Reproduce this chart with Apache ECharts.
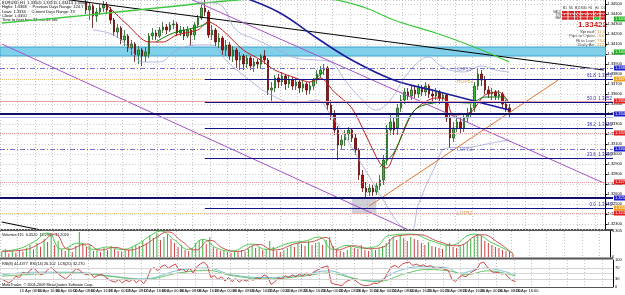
<!DOCTYPE html>
<html><head><meta charset="utf-8">
<script src="https://cdn.jsdelivr.net/npm/echarts@6/dist/echarts.min.js"></script>
<style>html,body{margin:0;padding:0;background:#fff}#c{width:625px;height:295px}</style>
</head><body><div id="c"></div>
<script>
// ---------------- DATA ----------------
const N = 173; // category slots (bars + right-side shift)
const tickLabels = ['15 Apr 2013','15 Apr 08:00','15 Apr 16:00','16 Apr 00:00','16 Apr 08:00','16 Apr 16:00',
 '17 Apr 00:00','17 Apr 08:00','17 Apr 16:00','18 Apr 00:00','18 Apr 08:00','18 Apr 16:00',
 '19 Apr 00:00','19 Apr 08:00','19 Apr 16:00','22 Apr 00:00','22 Apr 08:00','22 Apr 16:00',
 '23 Apr 00:00','23 Apr 08:00','23 Apr 16:00','24 Apr 00:00','24 Apr 08:00','24 Apr 16:00',
 '25 Apr 00:00','25 Apr 08:00','25 Apr 16:00','26 Apr 00:00','26 Apr 08:00','26 Apr 16:00'];
const firstCandle = 24; // earlier bars are above the visible price range
// [open, close, low, high]
const candleOHLC = [
[1.3452,1.3444,1.3440,1.3456],[1.3444,1.3448,1.3434,1.3451],[1.3448,1.3438,1.3426,1.3450],[1.3438,1.3442,1.3432,1.3446],
[1.3442,1.3446,1.3439,1.3450],[1.3446,1.3449,1.3442,1.3453],[1.3449,1.3444,1.3440,1.3452],[1.3444,1.3434,1.3430,1.3447],
[1.3434,1.3422,1.3418,1.3436],[1.3422,1.3426,1.3416,1.3430],[1.3426,1.3414,1.3410,1.3428],[1.3414,1.3418,1.3408,1.3424],
[1.3418,1.3406,1.3402,1.3420],[1.3406,1.3410,1.3399,1.3414],[1.3410,1.3399,1.3392,1.3412],[1.3399,1.3404,1.3390,1.3408],
[1.3404,1.3398,1.3388,1.3406],[1.3398,1.3402,1.3392,1.3407],[1.3400,1.3418,1.3396,1.3421],[1.3418,1.3421,1.3414,1.3426],
[1.3421,1.3418,1.3414,1.3424],[1.3418,1.3424,1.3416,1.3427],[1.3424,1.3427,1.3421,1.3432],[1.3427,1.3424,1.3420,1.3430],
[1.3424,1.3429,1.3422,1.3432],[1.3429,1.3430,1.3425,1.3434],[1.3430,1.3421,1.3418,1.3432],[1.3421,1.3424,1.3418,1.3428],
[1.3424,1.3418,1.3414,1.3427],[1.3418,1.3424,1.3416,1.3428],[1.3424,1.3419,1.3408,1.3426],[1.3419,1.3429,1.3414,1.3432],
[1.3429,1.3436,1.3426,1.3439],[1.3436,1.3446,1.3434,1.3449],[1.3446,1.3442,1.3438,1.3457],[1.3442,1.3419,1.3416,1.3444],
[1.3419,1.3424,1.3414,1.3429],[1.3424,1.3412,1.3408,1.3426],[1.3412,1.3416,1.3406,1.3421],[1.3416,1.3404,1.3399,1.3418],
[1.3404,1.3409,1.3398,1.3414],[1.3409,1.3398,1.3394,1.3412],[1.3398,1.3404,1.3392,1.3408],[1.3404,1.3394,1.3386,1.3406],
[1.3394,1.3398,1.3384,1.3402],[1.3398,1.3390,1.3384,1.3400],[1.3390,1.3396,1.3386,1.3399],[1.3396,1.3388,1.3384,1.3398],
[1.3388,1.3392,1.3382,1.3396],[1.3392,1.3390,1.3385,1.3395],[1.3390,1.3398,1.3386,1.3400],[1.3398,1.3394,1.3390,1.3404],
[1.3394,1.3364,1.3359,1.3396],[1.3364,1.3366,1.3352,1.3372],[1.3366,1.3376,1.3362,1.3379],[1.3376,1.3372,1.3366,1.3380],
[1.3372,1.3378,1.3368,1.3382],[1.3378,1.3370,1.3364,1.3380],[1.3370,1.3374,1.3366,1.3378],[1.3374,1.3368,1.3364,1.3377],
[1.3368,1.3372,1.3364,1.3376],[1.3372,1.3366,1.3361,1.3374],[1.3366,1.3370,1.3362,1.3374],[1.3370,1.3364,1.3359,1.3372],
[1.3364,1.3368,1.3360,1.3372],[1.3368,1.3374,1.3364,1.3376],[1.3374,1.3380,1.3370,1.3384],[1.3380,1.3384,1.3376,1.3388],
[1.3384,1.3386,1.3379,1.3390],[1.3386,1.3349,1.3344,1.3388],[1.3349,1.3339,1.3334,1.3354],[1.3339,1.3324,1.3319,1.3344],
[1.3324,1.3309,1.3294,1.3328],[1.3309,1.3314,1.3304,1.3319],[1.3314,1.3320,1.3308,1.3324],[1.3320,1.3324,1.3314,1.3327],
[1.3324,1.3316,1.3312,1.3326],[1.3316,1.3304,1.3299,1.3320],[1.3304,1.3279,1.3274,1.3306],[1.3279,1.3266,1.3262,1.3284],
[1.3266,1.3262,1.3256,1.3272],[1.3262,1.3266,1.3258,1.3270],[1.3266,1.3262,1.3258,1.3269],[1.3262,1.3268,1.3259,1.3272],
[1.3268,1.3274,1.3264,1.3279],[1.3274,1.3294,1.3269,1.3299],[1.3294,1.3324,1.3289,1.3329],[1.3324,1.3332,1.3319,1.3341],
[1.3332,1.3324,1.3319,1.3336],[1.3326,1.3346,1.3319,1.3350],[1.3346,1.3354,1.3342,1.3359],[1.3354,1.3362,1.3350,1.3366],
[1.3362,1.3358,1.3354,1.3366],[1.3358,1.3364,1.3354,1.3368],[1.3364,1.3360,1.3356,1.3368],[1.3360,1.3366,1.3356,1.3370],
[1.3366,1.3362,1.3358,1.3369],[1.3362,1.3368,1.3358,1.3372],[1.3368,1.3360,1.3356,1.3370],[1.3360,1.3358,1.3352,1.3364],
[1.3358,1.3362,1.3354,1.3366],[1.3362,1.3356,1.3350,1.3364],[1.3356,1.3359,1.3352,1.3362],[1.3359,1.3336,1.3332,1.3361],
[1.3336,1.3316,1.3306,1.3339],[1.3316,1.3326,1.3312,1.3332],[1.3326,1.3332,1.3322,1.3338],[1.3332,1.3326,1.3320,1.3336],
[1.3326,1.3336,1.3322,1.3340],[1.3336,1.3340,1.3332,1.3346],[1.3340,1.3346,1.3336,1.3350],[1.3346,1.3368,1.3342,1.3372],
[1.3368,1.3380,1.3364,1.3386],[1.3380,1.3374,1.3368,1.3384],[1.3374,1.3364,1.3360,1.3378],[1.3364,1.3360,1.3356,1.3368],
[1.3360,1.3362,1.3354,1.3366],[1.3362,1.3358,1.3354,1.3364],[1.3358,1.3360,1.3354,1.3364],[1.3360,1.3350,1.3346,1.3362],
[1.3350,1.3345,1.3342,1.3354],[1.3346,1.3342,1.3337,1.3350]
];
// overlay lines: [barIndex, price]
const blackTrend = [[0,1.3463],[172,1.3384]];
const blackTrendLow = [[0,1.3232],[14,1.3222]];
const greenMA = [[0,1.3431],[16,1.3436],[33,1.3442],[50,1.3448],[64,1.3453],[79,1.3456],[93,1.3455],[104,1.3446],[112,1.3434],[124,1.3421],[135,1.3407],[145,1.3392]];
const blueMA = [[67,1.3459],[79,1.3442],[90,1.3416],[100,1.3394],[112,1.3374],[124,1.3363],[135,1.3353],[145,1.3344]];
const redEMA = [[30,1.3449],[36,1.3429],[42,1.3412],[46,1.3412],[50,1.3419],[56,1.3424],[59,1.3432],[63,1.3424],[69,1.3404],[74,1.3394],[78,1.3384],[84,1.3376],[88,1.3372],[91,1.3376],[95,1.3362],[100,1.3346],[104,1.3319],[108,1.3291],[110,1.3286],[112,1.3299],[115,1.3324],[118,1.3344],[124,1.3356],[127,1.3354],[129,1.3339],[134,1.3342],[138,1.3359],[142,1.3362],[145,1.3351]];
const dkGreen1 = [[44,1.3412],[49,1.3421],[56,1.3427],[59,1.3431]];
const dkGreen2 = [[89,1.3374],[92,1.3382]];
const dkGreen3 = [[108,1.3287],[112,1.3301],[118,1.3344],[127,1.3352],[134,1.3351],[138,1.3357],[143,1.3357],[145,1.3351]];
const bbUpper = [[56,1.3452],[62,1.3450],[67,1.3424],[73,1.3414],[79,1.3404],[84,1.3396],[90,1.3394],[94,1.3392],[98,1.3374],[103,1.3354],[107,1.3344],[111,1.3354],[115,1.3376],[119,1.3392],[122,1.3397],[125,1.3389],[128,1.3384],[132,1.3382],[137,1.3388],[141,1.3384],[145,1.3382]];
const bbLower = [[26,1.3424],[32,1.3419],[37,1.3404],[40,1.3392],[45,1.3392],[50,1.3404],[56,1.3409],[60,1.3409],[64,1.3394],[70,1.3376],[77,1.3359],[84,1.3351],[90,1.3354],[94,1.3339],[97,1.3324],[103,1.3289],[109,1.3254],[114,1.3228],[117,1.3224],[119,1.3249],[124,1.3289],[127,1.3306],[134,1.3307],[140,1.3311],[145,1.3314]];
const purpleA = [[0,1.3410],[120,1.3218]];
const purpleB = [[50,1.3461],[172,1.3271]];
const orangeTrend = [[105,1.3248],[159,1.3374]];
// horizontal levels
const cyanZone = [1.3407, 1.3398];
const grayBox = [[100,1.3255],[107,1.3240]];
const dashDotLevels = [1.3386, 1.3305];
const navyThickLevels = [1.3340, 1.3256];
const pinkSolidLevels = [1.3353];
const pinkDotLevels = [1.3321, 1.3272, 1.3241];
const lavenderLevels = [1.3337];
const orangeDotLevels = [1.3375, 1.3241];
const fibStart = 58;
const fibRatios = ['61.8','50.0','38.2','23.6','0.0'];
const fibPrices = [1.3375, 1.3352, 1.3326, 1.3296, 1.3246];
const blueTags = [1.3386, 1.3340, 1.3305, 1.3256];
const redTags = [1.3353, 1.3321, 1.3272, 1.3241];
const orangeTags = [1.3375, 1.3246];
const greenTags = [1.3435, 1.3402];
// volumes
const volumes = [250,400,180,300,220,350, 280,450,600,380,700,520, 900,750,1050,600,820, 400,300,450,250,
 550,1250,700,500,600, 300,380,250,450, 350,550,400,300, 280,420,350,500, 600,550,800,700,
 1100,950,1200,850,1000,1150,900, 700,500,600,350, 300,450,700,850, 900,650,1000,500,
 400,300,350,250,200, 300,250,350,280,400, 550,450,500,350, 400,800,500,300,250,
 350,450,600,500,700, 650,550,800,600,700, 750,600,850,1000, 550,400,300,250,350,
 500,450,400,600,350, 300,400,350,450,550, 700,900,1000,850,1100, 950,800,1000,900,850,
 700,600,750,550,500, 450,400,600,700,500, 450,550,650,750,900, 1000,1150,1050,800,700,
 600,500,450,350,300, 250,150];
const volRed = [[0,280],[6,350],[11,700],[15,1150],[19,380],[24,650],[28,350],[32,480],[36,350],[40,560],[44,1000],[47,1260],[51,800],[55,350],[59,840],[63,420],[67,280],[73,630],[77,350],[84,700],[88,770],[92,980],[95,350],[100,560],[104,420],[108,490],[112,1050],[118,1120],[124,770],[129,560],[136,1120],[141,700],[145,140]];
const volGreen = [[0,300],[4,380],[9,750],[13,1200],[17,400],[22,700],[26,380],[30,500],[34,380],[38,600],[42,1050],[45,1300],[49,850],[53,380],[57,880],[61,450],[65,300],[71,650],[75,380],[82,720],[86,800],[90,1000],[94,380],[98,580],[102,450],[106,520],[110,1080],[116,1150],[122,800],[127,580],[134,1150],[139,720],[145,200]];
const volMax = 1305;
// oscillator pane
const oscRed = [30,22,15,25,40,35,55,48,62,70,58,45, 50,65,72,60,48,38,30,42,55,68,62,50,
 45,52,35,42,48,40,30,22,18,28,15,25, 20,30,15,28,12,30,
 65,72,60,75,82,70,78,85,62,68,55,70,52,75,85,92,80,
 35,42,28,38,22,35,20,32,18,28,22,30,25,35,30,45,38,
 10,18,35,30,42,35,45,38,48,40,52,42,55,62,70,75,78,
 15,10,8,5,18,25,30,22,12,6,5,8, 15,12,22,30,55,75,80,72,85,90,92,
 80,85,78,82,75,80,70,68,72,65,62, 30,20, 35,42,38,50,58,65,88,92, 75,60,52,55,48,50,35,25,20];
const oscCyan = [[0,45],[10,55],[20,55],[30,42],[40,30],[50,62],[58,70],[65,45],[75,35],[85,45],[92,60],[100,30],[105,22],[112,60],[118,75],[126,70],[129,50],[136,70],[145,45]];
const oscGreen = [[0,40],[10,48],[20,52],[30,40],[40,28],[50,52],[58,62],[65,42],[75,30],[85,40],[92,52],[100,30],[106,20],[114,50],[120,65],[127,58],[131,45],[137,60],[145,40]];
const oscLevels = [30, 50, 70];
// texts
const headerLines = ['EURUSD,H1  1.33505 1.33515 1.33413 1.33422','Highs: 1.3368  \u00b7  Previous Days Range: 124.7','Lows: 1.3334  \u00b7  Current Days Range: 73','Close: 1.3350','Time to next bar: 33 min 45 sec'];
const signalTF = ['M1','M5','M15','M30','H1','H4','D1'];
const signalRows = ['MACD','STR','EMA'];
const signalState = [[0,0,0,0,0,0,0],[0,0,0,0,0,0,0],[0,0,0,0,0,1,0]];
const bigPrice = '1.33422';
const infoLabels = ['Spread:','Pips to Open:','Hi to Low:','Daily Av:'];
const infoValues = ['11.5','-9.6','73.0','112.8'];
const volTitle = 'Volumes 115  0.0520  18.2941  11.2020';
const oscTitle = 'RSI(8) 44.4377  RSI(14) 26.102  LCS(20) 32.270';
const copyright = 'MetaTrader, \u00a9 2001-2009 MetaQuotes Software Corp.';

// ---------------- BUILD ----------------
const F = '"Liberation Sans", Arial, sans-serif';
const categories = Array.from({length:N}, (_, i) => (i % 5 === 0 && tickLabels[i/5]) ? tickLabels[i/5] : '');
const candleData = Array(firstCandle).fill('-').concat(candleOHLC);
const volData = volumes.map((v, i) => ({value:v, itemStyle:{color: (i === 0 || v >= volumes[i-1]) ? '#3cae3c' : '#c84040'}}));

const full = (p, style) => [{coord:[0,p], x:0, lineStyle:style}, {coord:[N-1,p], x:613}];
const ml = [];
dashDotLevels.forEach(p => ml.push(full(p, {color:'#7474c8', type:[5,2,1,2], width:1})));
navyThickLevels.forEach(p => ml.push(full(p, {color:'#10106a', type:'solid', width:2})));
pinkSolidLevels.forEach(p => ml.push(full(p, {color:'#e6a2a2', type:'solid', width:1})));
pinkDotLevels.forEach(p => ml.push(full(p, {color:'#e8a0a0', type:[1,1], width:1})));
lavenderLevels.forEach(p => ml.push(full(p, {color:'#b4b4ea', type:'solid', width:1})));
orangeDotLevels.forEach(p => ml.push([{coord:[0,p], x:0, lineStyle:{color:'#f0c478', type:[1,1], width:1}},{coord:[fibStart,p]}]));
fibPrices.forEach((p, k) => ml.push([{coord:[fibStart,p], lineStyle:{color:'#14148a', type:'solid', width:1},
  label:{show:true, position:'insideEndTop', formatter: fibRatios[k] + '  ' + p.toFixed(4), fontSize:4.5, color:'#3030a0', fontFamily:F, distance:1}},
  {coord:[N-1,p], x:613}]));
const tagMl = [];
const tag = (p, c) => [{coord:[N-1,p], x:612, lineStyle:{color:'rgba(0,0,0,0)', width:0.1},
  label:{show:true, position:'end', distance:1, formatter:p.toFixed(5),
  backgroundColor:c, color:'#fff', fontSize:4, padding:[1,1,0,1], fontFamily:F}}, {coord:[N-1,p], x:613}];
blueTags.forEach(p => tagMl.push(tag(p, '#1c1cc8')));
redTags.forEach(p => tagMl.push(tag(p, '#e01c1c')));
orangeTags.forEach(p => tagMl.push(tag(p, '#f0a01c')));
greenTags.forEach(p => tagMl.push(tag(p, '#1cae1c')));

function ln(data, color, width, extra) {
  return Object.assign({type:'line', xAxisIndex:0, yAxisIndex:0, data, symbol:'none', silent:true,
    lineStyle:{color, width}, clip:true, z:3}, extra || {});
}

const graphics = [];
graphics.push({type:'text', x:2, y:1, style:{text:headerLines.join('\n'), font:'4px ' + F, lineHeight:4.2, fill:'#000'}});
signalTF.forEach((t, c) => graphics.push({type:'text', x:564.8 + c*6.4, y:8.6, style:{text:t, font:'3px ' + F, fill:'#333', align:'center', verticalAlign:'middle'}}));
signalRows.forEach((t, r) => {
  graphics.push({type:'text', x:561, y:12.2 + r*3.1, style:{text:t, font:'2.6px ' + F, fill:'#333', align:'right', verticalAlign:'middle'}});
  signalTF.forEach((_, c) => graphics.push({type:'rect', shape:{x:562 + c*6.4, y:11 + r*3.1, width:5.6, height:2.5},
    style:{fill: signalState[r][c] ? '#1fb41f' : '#d42020'}}));
});
graphics.push({type:'text', x:607, y:25, style:{text:bigPrice, font:'bold 8px ' + F, fill:'#d41212', align:'right', verticalAlign:'middle'}});
infoLabels.forEach((t, k) => {
  graphics.push({type:'text', x:595, y:31.5 + k*4.5, style:{text:t, font:'4.3px ' + F, fill:'#444', align:'right', verticalAlign:'middle'}});
  graphics.push({type:'text', x:597, y:31.5 + k*4.5, style:{text:infoValues[k], font:'4.3px ' + F, fill:'#d08a28', align:'left', verticalAlign:'middle'}});
});
graphics.push({type:'text', x:455, y:70, style:{text:'HOP51', font:'5px ' + F, fill:'#8c8cd0', verticalAlign:'middle'}});
graphics.push({type:'text', x:457, y:81.5, style:{text:'HOP52', font:'5px ' + F, fill:'#e0a448', verticalAlign:'middle'}});
graphics.push({type:'text', x:457, y:150, style:{text:'LOP51', font:'5px ' + F, fill:'#8c8cd0', verticalAlign:'middle'}});
graphics.push({type:'text', x:457, y:213.5, style:{text:'LOP52', font:'5px ' + F, fill:'#e0a448', verticalAlign:'middle'}});
graphics.push({type:'text', x:2, y:233, style:{text:volTitle, font:'3.8px ' + F, fill:'#000'}});
graphics.push({type:'text', x:2, y:262, style:{text:oscTitle, font:'3.8px ' + F, fill:'#000'}});
graphics.push({type:'text', x:2, y:282.5, style:{text:copyright, font:'3.8px ' + F, fill:'#000'}});
graphics.push({type:'line', shape:{x1:0, y1:230, x2:613, y2:230}, style:{stroke:'#555', lineWidth:2}});
graphics.push({type:'line', shape:{x1:0, y1:258.5, x2:613, y2:258.5}, style:{stroke:'#555', lineWidth:2}});
graphics.push({type:'line', shape:{x1:0, y1:287.5, x2:613, y2:287.5}, style:{stroke:'#555', lineWidth:1}});

const gridV = {show:true, interval:4, lineStyle:{color:'#c4c4c4', type:[1,2], width:1}};
const option = {
  animation:false,
  backgroundColor:'#fff',
  textStyle:{fontFamily:F},
  grid:[{left:0, top:0, width:613, height:229},{left:0, top:231, width:613, height:26},{left:0, top:260, width:613, height:27}],
  xAxis:[0,1,2].map(k => ({type:'category', gridIndex:k, data:categories, boundaryGap:true,
    axisLine:{show:false}, axisTick:{show:false},
    axisLabel:{show:k===2, interval:4, fontSize:4, color:'#000', margin:2, align:'left', fontFamily:F},
    splitLine:gridV})),
  yAxis:[
    {type:'value', gridIndex:0, position:'right', min:1.3225, max:1.3454, splitNumber:20,
      axisLine:{show:true, lineStyle:{color:'#000', width:1}}, axisTick:{show:true, length:2, lineStyle:{color:'#000'}},
      axisLabel:{fontSize:4, color:'#000', margin:2, formatter:v => v.toFixed(5), showMinLabel:false, showMaxLabel:false, fontFamily:F},
      splitLine:{show:true, lineStyle:{color:'#cfcfcf', type:[1,2]}}},
    {type:'value', gridIndex:1, position:'right', min:0, max:volMax,
      axisLine:{show:true, lineStyle:{color:'#000'}}, axisTick:{show:false},
      axisLabel:{fontSize:4, color:'#000', margin:2, customValues:[0, volMax], fontFamily:F}, splitLine:{show:false}},
    {type:'value', gridIndex:2, position:'right', min:0, max:100,
      axisLine:{show:true, lineStyle:{color:'#000'}}, axisTick:{show:false},
      axisLabel:{fontSize:4, color:'#000', margin:2, customValues:[0, 30, 70, 100], fontFamily:F}, splitLine:{show:false}}
  ],
  graphic:graphics,
  series:[
    {type:'candlestick', xAxisIndex:0, yAxisIndex:0, data:candleData, barWidth:2, clip:true, silent:true, z:2,
      itemStyle:{color:'#2fbf2f', color0:'#a80c0c', borderColor:'#1e5a1e', borderColor0:'#5a0a0a', borderWidth:0.8},
      markArea:{silent:true, data:[
        [{yAxis:cyanZone[0], itemStyle:{color:'#80d0ea', borderColor:'#3aa2cc', borderWidth:1}},{yAxis:cyanZone[1]}],
        [{coord:grayBox[0], itemStyle:{color:'rgba(150,150,170,0.45)'}},{coord:grayBox[1]}]
      ]}
    },
    ln(blackTrend, '#000', 1, {markLine:{silent:true, symbol:['none','none'], label:{show:false}, animation:false, data:ml}}),
    ln(blackTrendLow, '#000', 1),
    ln(greenMA, '#3ec83e', 1.3, {smooth:0.4}),
    ln(blueMA, '#1c1c9c', 1.6, {smooth:0.4}),
    ln(bbUpper, '#a6a6d8', 0.8, {smooth:0.4}),
    ln(bbLower, '#a6a6d8', 0.8, {smooth:0.4}),
    ln(redEMA, '#c41c1c', 1, {smooth:0.3}),
    ln(dkGreen1, '#0c7a0c', 1, {smooth:0.3}),
    ln(dkGreen2, '#0c7a0c', 1),
    ln(dkGreen3, '#0c7a0c', 1, {smooth:0.3}),
    ln(purpleA, '#a450c8', 1),
    ln(purpleB, '#a450c8', 1),
    ln(orangeTrend, '#e4742c', 1),
    // price tags on the axis (series holds only marker data)
    {type:'line', xAxisIndex:0, yAxisIndex:0, data:[[N-1, greenTags[1]]], symbol:'none', silent:true, clip:false, z:10,
      lineStyle:{width:0}, markLine:{silent:true, symbol:['none','none'], animation:false, data:tagMl}},
    {type:'bar', xAxisIndex:1, yAxisIndex:1, data:volData, barWidth:1, silent:true},
    {type:'line', xAxisIndex:1, yAxisIndex:1, data:volGreen, symbol:'none', smooth:0.5, silent:true, lineStyle:{color:'#50c850', width:1}},
    {type:'line', xAxisIndex:1, yAxisIndex:1, data:volRed, symbol:'none', smooth:0.5, silent:true, lineStyle:{color:'#c85050', width:1}},
    {type:'line', xAxisIndex:2, yAxisIndex:2, data:oscCyan, symbol:'none', smooth:0.4, silent:true, lineStyle:{color:'#78c4d6', width:1},
      markLine:{silent:true, symbol:['none','none'], label:{show:false}, data:oscLevels.map(v => ({yAxis:v, lineStyle:{color:'#d4d4d4', type:'solid', width:1}}))}},
    {type:'line', xAxisIndex:2, yAxisIndex:2, data:oscGreen, symbol:'none', smooth:0.4, silent:true, lineStyle:{color:'#6cc46c', width:1}},
    {type:'line', xAxisIndex:2, yAxisIndex:2, data:oscRed, symbol:'none', silent:true, lineStyle:{color:'#d04848', width:1}}
  ]
};
const chart = echarts.init(document.getElementById('c'), null, {renderer:'canvas'});
chart.setOption(option);
</script>
</body></html>
